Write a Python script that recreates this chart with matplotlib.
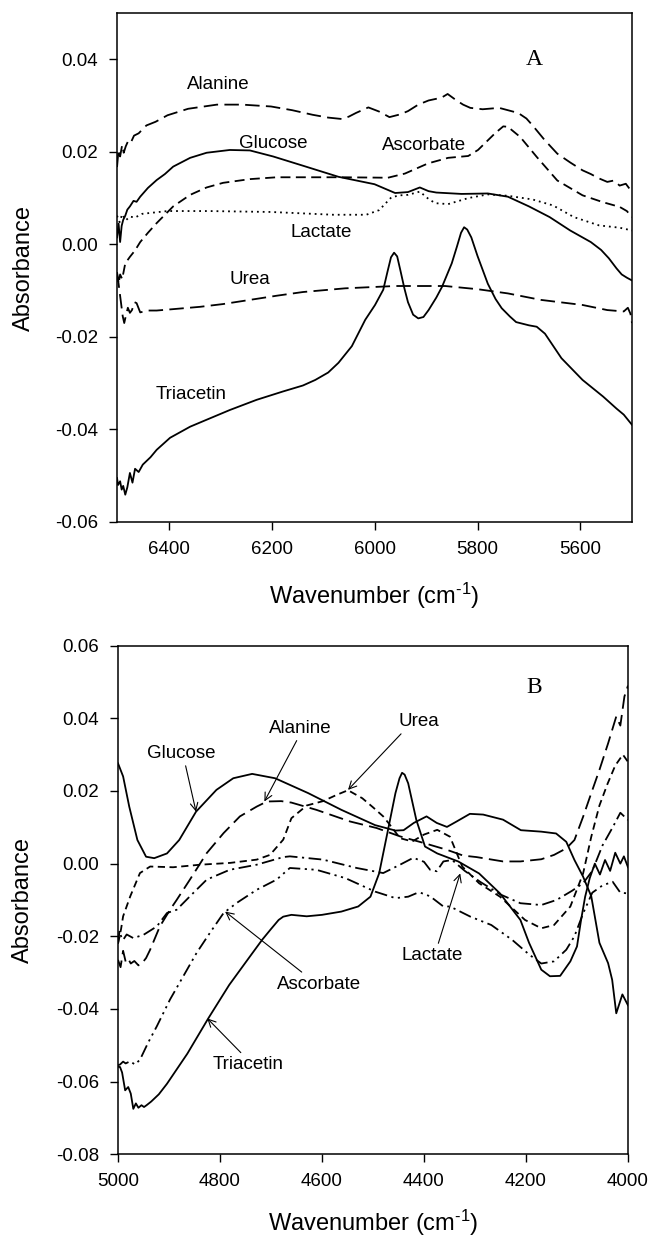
import matplotlib
matplotlib.use('Agg')
from matplotlib import pyplot as plt

plt.rcParams['font.family'] = 'Liberation Sans'
plt.rcParams['axes.unicode_minus'] = False
plt.rcParams['mathtext.fontset'] = 'custom'
plt.rcParams['mathtext.rm'] = 'Liberation Sans'
plt.rcParams['mathtext.it'] = 'Liberation Sans:italic'
plt.rcParams['mathtext.bf'] = 'Liberation Sans:bold'

# ---------------- panel A : 6500 - 5500 cm-1 ----------------
a_ala_x = [6500, 6497, 6494, 6490, 6487, 6483, 6479, 6474, 6467, 6458, 6443, 6425, 6402, 6362, 6306, 6257,
           6201, 6160, 6120, 6090, 6064, 6050, 6036, 6012, 5991, 5971, 5950, 5935, 5915, 5895, 5870, 5858,
           5842, 5828, 5814, 5790, 5758, 5721, 5705, 5693, 5670, 5645, 5620, 5596, 5580, 5565, 5548, 5535,
           5524, 5512, 5500]
a_ala_y = [0.0167, 0.0205, 0.019, 0.0215, 0.0198, 0.0212, 0.0222, 0.0218, 0.0235, 0.024, 0.0257, 0.0265,
           0.0279, 0.0293, 0.0302, 0.0302, 0.0298, 0.029, 0.028, 0.0274, 0.0271, 0.0276, 0.0284, 0.0296,
           0.0287, 0.0275, 0.0281, 0.0288, 0.0302, 0.0311, 0.0317, 0.0325, 0.0312, 0.0302, 0.0295, 0.0292,
           0.0295, 0.0284, 0.0272, 0.0257, 0.0226, 0.0196, 0.0177, 0.016, 0.0152, 0.0143, 0.0135, 0.0138,
           0.0127, 0.0131, 0.0113]

a_glu_x = [6500, 6497, 6494, 6491, 6488, 6484, 6480, 6475, 6468, 6462, 6455, 6440, 6423, 6407, 6391, 6358,
           6326, 6281, 6242, 6197, 6139, 6070, 6000, 5960, 5935, 5912, 5895, 5880, 5831, 5780, 5741, 5700,
           5660, 5620, 5580, 5560, 5545, 5530, 5520, 5510, 5500]
a_glu_y = [0.0015, 0.0045, 0.0005, 0.004, 0.0053, 0.0062, 0.0075, 0.0082, 0.0094, 0.0092, 0.0103, 0.0122,
           0.0139, 0.0152, 0.0168, 0.0187, 0.0198, 0.0204, 0.0203, 0.019, 0.017, 0.0146, 0.013, 0.0111,
           0.0113, 0.0123, 0.0115, 0.0112, 0.0109, 0.011, 0.0103, 0.0082, 0.0059, 0.003, 0.0005, -0.0012,
           -0.003, -0.0052, -0.0065, -0.0072, -0.0078]

a_asc_x = [6500, 6497, 6494, 6490, 6484, 6475, 6465, 6455, 6440, 6423, 6391, 6358, 6326, 6294, 6242, 6190,
           6139, 6060, 5974, 5941, 5896, 5857, 5818, 5799, 5766, 5750, 5741, 5717, 5685, 5645, 5596, 5556,
           5524, 5510, 5500]
a_asc_y = [-0.006, -0.0085, -0.0065, -0.0075, -0.0041, -0.0027, -0.0013, 0.0005, 0.0025, 0.0046, 0.0082,
           0.0107, 0.0123, 0.0133, 0.0141, 0.0145, 0.0145, 0.0145, 0.0144, 0.0153, 0.0175, 0.0187, 0.0191,
           0.0204, 0.024, 0.0255, 0.0254, 0.0232, 0.0189, 0.0138, 0.0106, 0.0091, 0.0081, 0.0072, 0.0059]

a_lac_x = [6500, 6495, 6490, 6483, 6475, 6465, 6451, 6402, 6322, 6201, 6080, 6016, 5991, 5967, 5950, 5935,
           5912, 5895, 5882, 5857, 5818, 5780, 5741, 5693, 5653, 5613, 5564, 5524, 5500]
a_lac_y = [0.0062, 0.0048, 0.0065, 0.0052, 0.006, 0.0058, 0.0066, 0.0072, 0.0072, 0.007, 0.0064, 0.0064,
           0.0074, 0.0102, 0.0106, 0.0107, 0.0114, 0.0098, 0.0089, 0.0087, 0.010, 0.0108, 0.0105, 0.0097,
           0.0084, 0.0059, 0.0041, 0.0036, 0.003]

a_urea_x = [6500, 6497, 6493, 6489, 6486, 6484, 6479, 6475, 6471, 6466, 6462, 6455, 6440, 6423, 6391, 6339,
            6294, 6242, 6190, 6139, 6057, 5960, 5863, 5799, 5741, 5677, 5596, 5548, 5516, 5508, 5503, 5500]
a_urea_y = [-0.0063, -0.0085, -0.012, -0.0155, -0.017, -0.016, -0.0137, -0.0148, -0.0142, -0.0125, -0.0127,
            -0.0147, -0.0143, -0.0143, -0.014, -0.0135, -0.0129, -0.012, -0.0111, -0.0103, -0.0095, -0.009,
            -0.009, -0.0097, -0.0106, -0.012, -0.0131, -0.0142, -0.0145, -0.0137, -0.015, -0.017]

a_tri_x = [6500, 6498, 6494, 6491, 6488, 6484, 6480, 6475, 6470, 6465, 6458, 6450, 6435, 6423, 6397, 6358,
           6326, 6281, 6229, 6178, 6139, 6115, 6090, 6070, 6044, 6018, 5999, 5983, 5975, 5968, 5962, 5956,
           5950, 5942, 5935, 5925, 5915, 5905, 5895, 5880, 5869, 5850, 5840, 5832, 5826, 5820, 5812, 5800,
           5790, 5780, 5765, 5753, 5737, 5725, 5700, 5685, 5669, 5637, 5596, 5556, 5530, 5516, 5500]
a_tri_y = [-0.0505, -0.052, -0.0512, -0.053, -0.0522, -0.0541, -0.0525, -0.0494, -0.0515, -0.0485, -0.0492,
           -0.0476, -0.046, -0.0444, -0.0418, -0.0394, -0.0379, -0.0358, -0.0336, -0.0318, -0.0305, -0.0293,
           -0.0277, -0.0256, -0.022, -0.0163, -0.0131, -0.0098, -0.006, -0.0028, -0.0018, -0.0026, -0.0055,
           -0.0095, -0.0125, -0.0152, -0.016, -0.0157, -0.0142, -0.0115, -0.0092, -0.0041, -0.0005, 0.0025,
           0.0037, 0.0032, 0.0015, -0.0025, -0.0055, -0.0085, -0.0118, -0.0138, -0.0156, -0.0168, -0.0175,
           -0.0178, -0.0193, -0.0246, -0.0293, -0.0329, -0.0355, -0.0368, -0.039]

# ---------------- panel B : 5000 - 4000 cm-1 ----------------
b_glu_x = [5000, 4990, 4978, 4962, 4945, 4929, 4904, 4880, 4847, 4807, 4774, 4737, 4692, 4627, 4562, 4496,
           4456, 4440, 4420, 4395, 4375, 4355, 4336, 4310, 4284, 4245, 4210, 4170, 4141, 4121, 4105, 4088,
           4072, 4056, 4039, 4031, 4023, 4011, 4000]
b_glu_y = [0.0276, 0.024, 0.0157, 0.0065, 0.0019, 0.0015, 0.0028, 0.0065, 0.0143, 0.0203, 0.0235, 0.0247,
           0.0235, 0.0194, 0.0148, 0.0106, 0.0091, 0.0092, 0.0112, 0.013, 0.0112, 0.0101, 0.0116, 0.0137,
           0.0135, 0.0121, 0.0092, 0.0088, 0.0083, 0.006, 0.001, -0.0036, -0.009, -0.0218, -0.0274, -0.032,
           -0.0412, -0.036, -0.039]

b_ala_x = [5000, 4995, 4990, 4985, 4980, 4975, 4968, 4960, 4955, 4945, 4937, 4918, 4898, 4885, 4859, 4826,
           4793, 4761, 4728, 4708, 4680, 4660, 4611, 4545, 4493, 4447, 4401, 4355, 4323, 4297, 4245, 4211,
           4170, 4145, 4121, 4105, 4088, 4072, 4056, 4039, 4023, 4015, 4007, 4000]
b_ala_y = [-0.0265, -0.0285, -0.024, -0.027, -0.0262, -0.0275, -0.0268, -0.028, -0.0278, -0.026, -0.0237,
           -0.0173, -0.0127, -0.01, -0.0044, 0.0029, 0.0084, 0.013, 0.0157, 0.0171, 0.0172, 0.0168, 0.0148,
           0.0116, 0.0098, 0.0075, 0.0057, 0.0038, 0.0022, 0.0018, 0.0006, 0.0006, 0.0012, 0.0024, 0.0042,
           0.0065, 0.0129, 0.0194, 0.0258, 0.0331, 0.0405, 0.038, 0.046, 0.049]

b_urea_x = [5000, 4994, 4990, 4976, 4957, 4937, 4892, 4839, 4780, 4728, 4702, 4676, 4660, 4630, 4598, 4570,
            4549, 4521, 4500, 4480, 4467, 4447, 4423, 4400, 4374, 4349, 4325, 4292, 4251, 4202, 4170, 4145,
            4113, 4088, 4072, 4056, 4040, 4025, 4010, 4000]
b_urea_y = [-0.022, -0.018, -0.0145, -0.009, -0.0026, -0.0008, -0.001, -0.0003, 0.0002, 0.0011, 0.0024,
            0.0066, 0.0125, 0.016, 0.0172, 0.019, 0.0202, 0.018, 0.0155, 0.013, 0.0107, 0.007, 0.0061, 0.008,
            0.0093, 0.0074, -0.0008, -0.0054, -0.0091, -0.0155, -0.0178, -0.0169, -0.0118, -0.0027, 0.0074,
            0.016, 0.022, 0.027, 0.03, 0.028]

b_lac_x = [5000, 4997, 4994, 4990, 4983, 4970, 4950, 4924, 4904, 4885, 4859, 4826, 4781, 4728, 4676, 4663,
           4598, 4532, 4480, 4447, 4421, 4400, 4388, 4375, 4362, 4345, 4320, 4290, 4250, 4211, 4170, 4140,
           4110, 4088, 4070, 4050, 4030, 4015, 4000]
b_lac_y = [-0.022, -0.0185, -0.02, -0.021, -0.0195, -0.0205, -0.0196, -0.0173, -0.0136, -0.0127, -0.009,
           -0.0044, -0.0017, -0.0003, 0.0018, 0.002, 0.0011, -0.0012, -0.0026, -0.0003, 0.0016, 0.0005,
           -0.0017, -0.0021, 0.0006, 0.001, -0.002, -0.005, -0.0085, -0.0109, -0.0114, -0.01, -0.0075,
           -0.0054, -0.002, 0.005, 0.01, 0.014, 0.012]

b_asc_x = [5000, 4996, 4990, 4985, 4976, 4967, 4957, 4941, 4924, 4898, 4872, 4846, 4820, 4793, 4767, 4728,
           4689, 4663, 4611, 4554, 4496, 4456, 4431, 4414, 4407, 4388, 4362, 4349, 4309, 4268, 4227, 4194,
           4170, 4145, 4121, 4105, 4088, 4070, 4050, 4030, 4015, 4000]
b_asc_y = [-0.0555, -0.0553, -0.0545, -0.055, -0.0544, -0.0553, -0.054, -0.0493, -0.0448, -0.0374, -0.031,
           -0.0246, -0.0191, -0.0136, -0.0108, -0.0072, -0.0044, -0.0012, -0.0017, -0.004, -0.0077, -0.0095,
           -0.0091, -0.0081, -0.008, -0.009, -0.0118, -0.0118, -0.0146, -0.0169, -0.021, -0.025, -0.0275,
           -0.0269, -0.0237, -0.02, -0.0137, -0.008, -0.006, -0.005, -0.008, -0.0082]

b_tri_x = [5000, 4996, 4992, 4986, 4980, 4975, 4970, 4965, 4960, 4954, 4949, 4944, 4935, 4920, 4904, 4864,
           4823, 4782, 4741, 4717, 4700, 4685, 4676, 4660, 4630, 4600, 4562, 4529, 4505, 4488, 4472, 4456,
           4448, 4443, 4438, 4431, 4415, 4398, 4374, 4333, 4292, 4251, 4211, 4194, 4170, 4153, 4133, 4113,
           4100, 4092, 4084, 4075, 4065, 4055, 4045, 4035, 4025, 4015, 4008, 4000]
b_tri_y = [-0.0559, -0.056, -0.0575, -0.0624, -0.0615, -0.0633, -0.0675, -0.066, -0.0672, -0.0665, -0.067,
           -0.0665, -0.0655, -0.0635, -0.0606, -0.0523, -0.0426, -0.0334, -0.0255, -0.0209, -0.018, -0.0155,
           -0.0146, -0.0141, -0.0145, -0.0141, -0.0132, -0.0118, -0.0091, -0.0027, 0.0083, 0.0194, 0.0235,
           0.025, 0.0245, 0.0221, 0.012, 0.0047, 0.0028, 0.0006, -0.0027, -0.0082, -0.0155, -0.0218, -0.0292,
           -0.031, -0.0309, -0.0269, -0.0228, -0.0155, -0.0091, -0.004, 0.0, -0.003, 0.001, -0.002, 0.003,
           0.0, 0.002, -0.001]

LW = 1.3
long_dash = (0, (8, 3.5))
med_dash = (0, (5.5, 3))
short_dash = (0, (4, 2.5))
dotted = (0, (1, 2.2))
dash_dot = (0, (7, 2.5, 1.2, 2.5))
dash_dot_dot = (0, (7, 2.5, 1.2, 2.5, 1.2, 2.5))

fig = plt.figure(figsize=(6.56, 12.39), dpi=100)
axA = fig.add_axes([0.1784, 0.5787, 0.785, 0.4108])
axB = fig.add_axes([0.1799, 0.0684, 0.7774, 0.4105])

axA.plot(a_ala_x, a_ala_y, color='black', lw=LW, linestyle=long_dash)
axA.plot(a_glu_x, a_glu_y, color='black', lw=LW)
axA.plot(a_asc_x, a_asc_y, color='black', lw=LW, linestyle=med_dash)
axA.plot(a_lac_x, a_lac_y, color='black', lw=LW, linestyle=dotted)
axA.plot(a_urea_x, a_urea_y, color='black', lw=LW, linestyle=long_dash)
axA.plot(a_tri_x, a_tri_y, color='black', lw=LW)

axB.plot(b_glu_x, b_glu_y, color='black', lw=LW)
axB.plot(b_ala_x, b_ala_y, color='black', lw=LW, linestyle=long_dash)
axB.plot(b_urea_x, b_urea_y, color='black', lw=LW, linestyle=short_dash)
axB.plot(b_lac_x, b_lac_y, color='black', lw=LW, linestyle=dash_dot)
axB.plot(b_asc_x, b_asc_y, color='black', lw=LW, linestyle=dash_dot_dot)
axB.plot(b_tri_x, b_tri_y, color='black', lw=LW)

axA.set_xlim(6500, 5500)
axA.set_ylim(-0.06, 0.05)
axA.set_xticks([6400, 6200, 6000, 5800, 5600])
axA.set_yticks([-0.06, -0.04, -0.02, 0.00, 0.02, 0.04])

axB.set_xlim(5000, 4000)
axB.set_ylim(-0.08, 0.06)
axB.set_xticks([5000, 4800, 4600, 4400, 4200, 4000])
axB.set_yticks([-0.08, -0.06, -0.04, -0.02, 0.00, 0.02, 0.04, 0.06])

for ax in (axA, axB):
    ax.yaxis.set_major_formatter(matplotlib.ticker.FormatStrFormatter('%.2f'))
    ax.tick_params(direction='out', length=5.5, width=1.0, labelsize=13.5, pad=8,
                   top=False, right=False)
    for s in ax.spines.values():
        s.set_linewidth(1.1)
    ax.set_xlabel(r'Wavenumber (cm$^{\text{-1}}$)', fontsize=17)
    ax.set_ylabel('Absorbance', fontsize=17)

axA.xaxis.set_label_coords(0.5, -0.116)
axA.yaxis.set_label_coords(-0.16, 0.5)
axB.xaxis.set_label_coords(0.5, -0.106)
axB.yaxis.set_label_coords(-0.165, 0.5)

# panel letters
axA.text(0.811, 0.908, 'A', transform=axA.transAxes, fontsize=17, family='Liberation Serif',
         ha='center', va='center')
axB.text(0.817, 0.917, 'B', transform=axB.transAxes, fontsize=17, family='Liberation Serif',
         ha='center', va='center')

# panel A labels
fs = 13.5
axA.text(6304, 0.0346, 'Alanine', fontsize=fs, ha='center', va='center')
axA.text(6197, 0.0217, 'Glucose', fontsize=fs, ha='center', va='center')
axA.text(5904, 0.0213, 'Ascorbate', fontsize=fs, ha='center', va='center')
axA.text(6104, 0.0025, 'Lactate', fontsize=fs, ha='center', va='center')
axA.text(6242, -0.0077, 'Urea', fontsize=fs, ha='center', va='center')
axA.text(6356, -0.0325, 'Triacetin', fontsize=fs, ha='center', va='center')

# panel B labels with arrows
def arrow_label(ax, text, xy, xytext, relpos):
    ax.annotate(text, xy=xy, xytext=xytext, fontsize=fs, ha='center', va='center',
                arrowprops=dict(arrowstyle='->', lw=0.8, color='black', relpos=relpos,
                                shrinkA=1, shrinkB=0))

arrow_label(axB, 'Glucose', (4847, 0.0143), (4876, 0.0304), (0.55, 0.0))
arrow_label(axB, 'Alanine', (4713, 0.0171), (4643, 0.0373), (0.48, 0.0))
arrow_label(axB, 'Urea', (4549, 0.0203), (4410, 0.0391), (0.15, 0.0))
arrow_label(axB, 'Ascorbate', (4790, -0.0132), (4606, -0.0332), (0.35, 1.0))
arrow_label(axB, 'Triacetin', (4825, -0.0426), (4745, -0.0554), (0.45, 1.0))
arrow_label(axB, 'Lactate', (4329, -0.0027), (4384, -0.0254), (0.58, 1.0))

fig.savefig('out.png', dpi=100)
